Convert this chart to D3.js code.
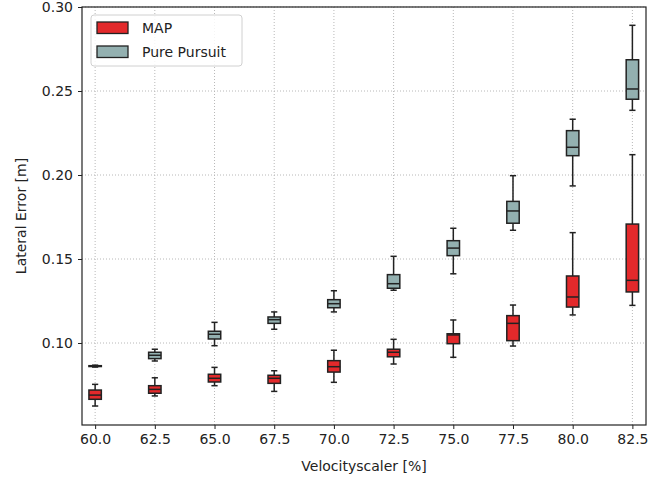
<!DOCTYPE html>
<html>
<head>
<meta charset="utf-8">
<script src="https://cdn.jsdelivr.net/npm/d3@7"></script>
<style>
  body { margin: 0; background: #fff; }
  text { font-family: "DejaVu Sans", sans-serif; fill: #222; }
</style>
</head>
<body>
<svg id="chart"></svg>
<script>
var width = 667;
var height = 480;
var svg = d3.select("#chart").attr("width", width).attr("height", height);

// velocity scaler categories [%]
var categories = [60.0, 62.5, 65.0, 67.5, 70.0, 72.5, 75.0, 77.5, 80.0, 82.5];
var tickLabels = ["60.0", "62.5", "65.0", "67.5", "70.0", "72.5", "75.0", "77.5", "80.0", "82.5"];
var yTicks = [0.10, 0.15, 0.20, 0.25, 0.30];

// MAP lateral error [m]
var mapLow  = [0.0625, 0.0685, 0.0746, 0.0712, 0.0766, 0.0875, 0.0915, 0.0982, 0.1167, 0.1224];
var mapQ1   = [0.0665, 0.0701, 0.0768, 0.0760, 0.0827, 0.0918, 0.0996, 0.1014, 0.1214, 0.1304];
var mapMed  = [0.0690, 0.0724, 0.0790, 0.0790, 0.0859, 0.0945, 0.1048, 0.1117, 0.1274, 0.1373];
var mapQ3   = [0.0720, 0.0746, 0.0814, 0.0808, 0.0895, 0.0963, 0.1055, 0.1163, 0.1399, 0.1708];
var mapHigh = [0.0754, 0.0793, 0.0855, 0.0835, 0.0957, 0.1022, 0.1137, 0.1226, 0.1657, 0.2121];

// Pure Pursuit lateral error [m]
var ppLow  = [0.0857, 0.0893, 0.0984, 0.1082, 0.1185, 0.1314, 0.1412, 0.1671, 0.1935, 0.2385];
var ppQ1   = [0.0860, 0.0907, 0.1024, 0.1117, 0.1210, 0.1326, 0.1520, 0.1713, 0.2115, 0.2451];
var ppMed  = [0.0862, 0.0927, 0.1052, 0.1139, 0.1234, 0.1353, 0.1565, 0.1786, 0.2165, 0.2512];
var ppQ3   = [0.0865, 0.0945, 0.1070, 0.1155, 0.1258, 0.1407, 0.1609, 0.1843, 0.2264, 0.2686];
var ppHigh = [0.0868, 0.0963, 0.1123, 0.1185, 0.1311, 0.1516, 0.1683, 0.1996, 0.2332, 0.2891];

var seriesNames = ["MAP", "Pure Pursuit"];
var seriesColors = ["#e3292b", "#93b0b0"];

var pLeft = 82, pRight = 646, pTop = 7, pBottom = 425;
var x = d3.scaleLinear().domain([59.45, 83.07]).range([pLeft, pRight]);
var y = d3.scaleLinear().domain([0.0512, 0.30]).range([pBottom, pTop]);

// grid
var grid = svg.append("g");
grid.selectAll("line.gx").data(categories).enter().append("line")
  .attr("x1", function(d) { return x(d); }).attr("x2", function(d) { return x(d); })
  .attr("y1", pTop).attr("y2", pBottom)
  .attr("stroke", "#b8b8b8").attr("stroke-width", 1).attr("stroke-dasharray", "1,2");
grid.selectAll("line.gy").data(yTicks).enter().append("line")
  .attr("x1", pLeft).attr("x2", pRight)
  .attr("y1", function(d) { return y(d); }).attr("y2", function(d) { return y(d); })
  .attr("stroke", "#b8b8b8").attr("stroke-width", 1).attr("stroke-dasharray", "1,2");

// axes
var xAxis = d3.axisBottom(x).tickValues(categories).tickSizeOuter(0).tickSize(4).tickPadding(5)
  .tickFormat(function(d, i) { return tickLabels[i]; });
var yAxis = d3.axisLeft(y).tickValues(yTicks).tickSizeOuter(0).tickSize(4).tickPadding(5)
  .tickFormat(d3.format(".2f"));

var gx = svg.append("g").attr("transform", "translate(0," + pBottom + ")").call(xAxis);
var gy = svg.append("g").attr("transform", "translate(" + pLeft + ",0)").call(yAxis);
[gx, gy].forEach(function(g) {
  g.select(".domain").remove();
  g.selectAll(".tick line").attr("stroke", "#222").attr("stroke-width", 1);
  g.selectAll(".tick text").style("font-size", "14px").attr("fill", "#222");
});

// frame
svg.append("rect").attr("x", pLeft).attr("y", pTop)
  .attr("width", pRight - pLeft).attr("height", pBottom - pTop)
  .attr("fill", "none").attr("stroke", "#222").attr("stroke-width", 1.2);

// boxes
var boxW = 0.52;
function drawBoxes(low, q1, med, q3, high, color) {
  var rows = categories.map(function(c, i) {
    return {c: c, low: low[i], q1: q1[i], med: med[i], q3: q3[i], high: high[i]};
  });
  var g = svg.append("g").selectAll("g").data(rows).enter().append("g");
  var half = (x(boxW) - x(0)) / 2;
  var cap = half / 2;
  g.append("line")
    .attr("x1", function(d) { return x(d.c); }).attr("x2", function(d) { return x(d.c); })
    .attr("y1", function(d) { return y(d.high); }).attr("y2", function(d) { return y(d.q3); })
    .attr("stroke", "#222").attr("stroke-width", 1.5);
  g.append("line")
    .attr("x1", function(d) { return x(d.c); }).attr("x2", function(d) { return x(d.c); })
    .attr("y1", function(d) { return y(d.q1); }).attr("y2", function(d) { return y(d.low); })
    .attr("stroke", "#222").attr("stroke-width", 1.5);
  ["high", "low"].forEach(function(k) {
    g.append("line")
      .attr("x1", function(d) { return x(d.c) - cap; }).attr("x2", function(d) { return x(d.c) + cap; })
      .attr("y1", function(d) { return y(d[k]); }).attr("y2", function(d) { return y(d[k]); })
      .attr("stroke", "#222").attr("stroke-width", 1.5);
  });
  g.append("rect")
    .attr("x", function(d) { return x(d.c) - half; })
    .attr("y", function(d) { return y(d.q3); })
    .attr("width", half * 2)
    .attr("height", function(d) { return Math.max(0.5, y(d.q1) - y(d.q3)); })
    .attr("fill", color).attr("stroke", "#222").attr("stroke-width", 1.5);
  g.append("line")
    .attr("x1", function(d) { return x(d.c) - half; }).attr("x2", function(d) { return x(d.c) + half; })
    .attr("y1", function(d) { return y(d.med); }).attr("y2", function(d) { return y(d.med); })
    .attr("stroke", "#222").attr("stroke-width", 1.5);
}
drawBoxes(ppLow, ppQ1, ppMed, ppQ3, ppHigh, seriesColors[1]);
drawBoxes(mapLow, mapQ1, mapMed, mapQ3, mapHigh, seriesColors[0]);

// axis titles
svg.append("text").attr("x", (pLeft + pRight) / 2).attr("y", 471)
  .attr("text-anchor", "middle").style("font-size", "14px").text("Velocityscaler [%]");
svg.append("text").attr("transform", "translate(26," + ((pTop + pBottom) / 2) + ") rotate(-90)")
  .attr("text-anchor", "middle").style("font-size", "14px").text("Lateral Error [m]");

// legend
var lg = svg.append("g");
lg.append("rect").attr("x", 91).attr("y", 15).attr("width", 151).attr("height", 51)
  .attr("rx", 3).attr("fill", "#fff").attr("fill-opacity", 0.85)
  .attr("stroke", "#d0d0d0").attr("stroke-width", 1);
var items = lg.selectAll("g").data(seriesNames).enter().append("g")
  .attr("transform", function(d, i) { return "translate(97," + (22 + i * 24) + ")"; });
items.append("rect").attr("width", 31).attr("height", 11.5)
  .attr("fill", function(d, i) { return seriesColors[i]; })
  .attr("stroke", "#222").attr("stroke-width", 1.3);
items.append("text").attr("x", 45).attr("y", 11).style("font-size", "14px")
  .text(function(d) { return d; });
</script>
</body>
</html>
